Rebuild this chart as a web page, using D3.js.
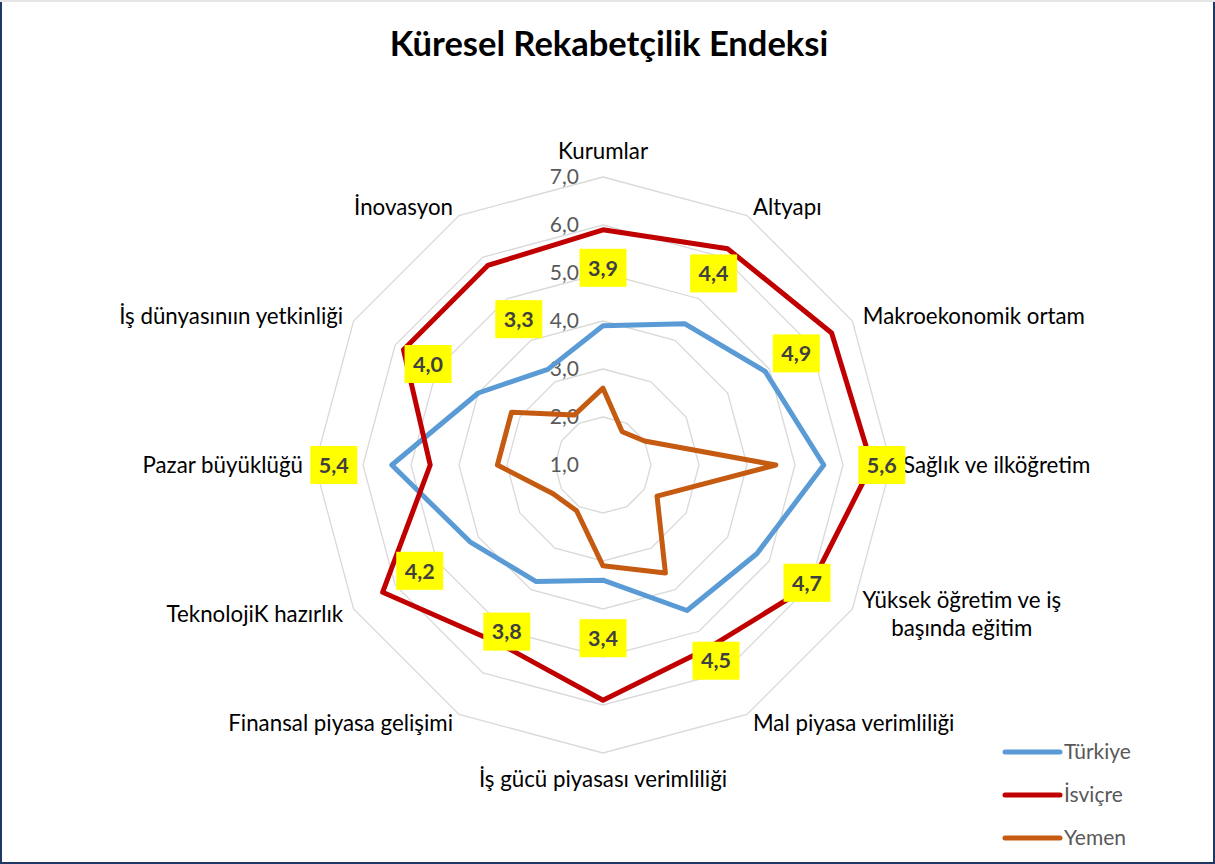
<!DOCTYPE html>
<html lang="tr">
<head>
<meta charset="UTF-8">
<title>Küresel Rekabetçilik Endeksi</title>
<script src="https://d3js.org/d3.v7.min.js"></script>
<style>
  body { margin: 0; background: #fff; }
  svg text { font-family: Lato, "Open Sans", sans-serif; }
</style>
</head>
<body>
<svg width="1215" height="864"></svg>
<script>
const width = 1215
const height = 864

// chart values
const categories = [
  ["Kurumlar"],
  ["Altyapı"],
  ["Makroekonomik ortam"],
  ["Sağlık ve ilköğretim"],
  ["Yüksek öğretim ve iş", "başında eğitim"],
  ["Mal piyasa verimliliği"],
  ["İş gücü piyasası verimliliği"],
  ["Finansal piyasa gelişimi"],
  ["TeknolojiK hazırlık"],
  ["Pazar büyüklüğü"],
  ["İş dünyasınıın yetkinliği"],
  ["İnovasyon"]
]
const turkiye = [3.9, 4.4, 4.9, 5.6, 4.7, 4.5, 3.4, 3.8, 4.2, 5.4, 4.0, 3.3]
const isvicre = [5.9, 6.2, 6.5, 6.6, 6.0, 5.4, 5.9, 5.3, 6.3, 4.6, 5.8, 5.8]
const yemen   = [2.6, 1.8, 2.0, 4.6, 2.3, 3.6, 3.1, 2.1, 2.2, 3.2, 3.2, 2.2]
const seriesNames = ["Türkiye", "İsviçre", "Yemen"]
const ticks = [1, 2, 3, 4, 5, 6, 7]

const colors = ["#5B9BD5", "#C00000", "#C55A11"]
const series = [turkiye, isvicre, yemen]

const svg = d3.select("svg")
const cx = 603, cy = 465, R = 288
const n = categories.length
const angle = i => i * 2 * Math.PI / n

const r = d3.scaleLinear().domain([1, 7]).range([0, R])
const comma = v => d3.format(".1f")(v).replace(".", ",")

// frame
svg.append("rect").attr("x", 1).attr("y", 1).attr("width", width - 2).attr("height", height - 2)
  .attr("fill", "#fff").attr("stroke", "#1F3864").attr("stroke-width", 2)
svg.append("line").attr("x1", 0).attr("x2", width).attr("y1", 1).attr("y2", 1)
  .attr("stroke", "#e6e6e6").attr("stroke-width", 2)

svg.append("text").attr("x", 609).attr("y", 56).attr("text-anchor", "middle")
  .attr("font-size", 34.5).attr("font-weight", "bold").attr("fill", "#000")
  .text("Küresel Rekabetçilik Endeksi")

const g = svg.append("g").attr("transform", `translate(${cx},${cy})`)

const radial = d3.lineRadial()
  .angle((d, i) => angle(i))
  .radius(d => r(d))
  .curve(d3.curveLinearClosed)

// grid rings
g.selectAll(".ring")
  .data(ticks.slice(1))
  .enter().append("path")
  .attr("d", t => radial(categories.map(() => t)))
  .attr("fill", "none").attr("stroke", "#d9d9d9").attr("stroke-width", 1.3)

// tick labels
g.selectAll(".tick")
  .data(ticks)
  .enter().append("text")
  .attr("x", -24).attr("y", t => -r(t)).attr("dy", "0.35em")
  .attr("text-anchor", "end").attr("font-size", 21).attr("fill", "#595959")
  .text(comma)

// series
g.selectAll(".series")
  .data(series)
  .enter().append("path")
  .attr("d", radial)
  .attr("fill", "none")
  .attr("stroke", (d, i) => colors[i])
  .attr("stroke-width", 5)
  .attr("stroke-linejoin", "round")

// category labels
categories.forEach((lines, i) => {
  const s = Math.sin(angle(i)), c = Math.cos(angle(i))
  const vx = R * s, vy = -R * c
  const anchor = Math.abs(s) < 0.01 ? "middle" : (s > 0 ? "start" : "end")
  const k = Math.abs(c) > 0.99 ? 26 : 10
  const x = vx + 12 * s
  const y = vy - k * c
  const t = g.append("text")
    .attr("font-size", 22.3).attr("fill", "#000")
    .attr("text-anchor", lines.length > 1 ? "middle" : anchor)
  const lh = 28
  lines.forEach((line, j) => {
    t.append("tspan")
      .attr("x", lines.length > 1 ? x + 99 : x)
      .attr("y", y + (j - (lines.length - 1) / 2) * lh)
      .attr("dy", "0.35em")
      .text(line)
  })
})

// Türkiye value labels
const nudge = {2: -22}
const lab = g.selectAll(".lab")
  .data(turkiye)
  .enter().append("g")
  .attr("transform", (d, i) => {
    const rr = r(d) + 58 + (nudge[i] || 0)
    return `translate(${rr * Math.sin(angle(i))},${-rr * Math.cos(angle(i))})`
  })
lab.append("rect").attr("x", -23.5).attr("y", -19).attr("width", 47).attr("height", 38)
  .attr("fill", "#FFFF00")
lab.append("text").attr("text-anchor", "middle").attr("dy", "0.36em")
  .attr("font-size", 21.5).attr("font-weight", "bold").attr("fill", "#404040")
  .text(comma)

// legend
const leg = svg.selectAll(".leg")
  .data(seriesNames)
  .enter().append("g")
  .attr("transform", (d, i) => `translate(1005,${752 + i * 43})`)
leg.append("line").attr("x1", 0).attr("x2", 55)
  .attr("stroke", (d, i) => colors[i]).attr("stroke-width", 5).attr("stroke-linecap", "round")
leg.append("text").attr("x", 59).attr("dy", "0.35em")
  .attr("font-size", 21).attr("fill", "#595959")
  .text(d => d)
</script>
</body>
</html>
